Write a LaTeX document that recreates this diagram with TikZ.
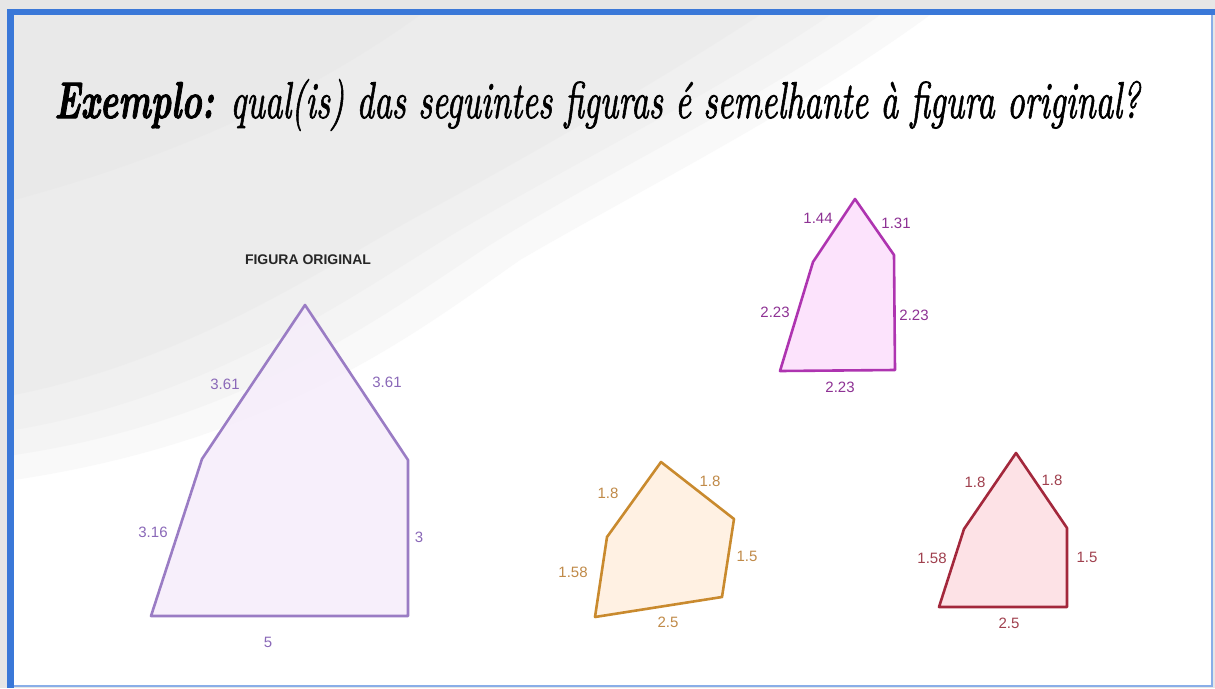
\documentclass[tikz,border=0pt]{standalone}
\usepackage{fontspec}
\newfontfamily\lab{Liberation Sans}
\newfontfamily\titlefont[Extension=.otf, FakeBold=1.6]{lmroman10-italic}
\newfontfamily\titlebold[Extension=.otf, FakeBold=2.2]{lmroman10-bolditalic}
\definecolor{frameblue}{HTML}{3A78D8}
\definecolor{outgray}{HTML}{E6E6E6}
\definecolor{blob}{HTML}{DCDCDC}
\definecolor{pStroke}{HTML}{9A7CC4}
\definecolor{pFill}{HTML}{F6EDFB}
\definecolor{pText}{HTML}{8A68B8}
\definecolor{mStroke}{HTML}{AE34B0}
\definecolor{mFill}{HTML}{FCE3FC}
\definecolor{mText}{HTML}{8E3294}
\definecolor{oStroke}{HTML}{C98A2E}
\definecolor{oFill}{HTML}{FFF1E3}
\definecolor{oText}{HTML}{C08A48}
\definecolor{rStroke}{HTML}{A3283C}
\definecolor{rFill}{HTML}{FDE2E6}
\definecolor{rText}{HTML}{A0404E}
\begin{document}
\begin{tikzpicture}[x=1pt,y=-1pt,
  lbl/.style={font=\lab\fontsize{15}{18}\selectfont, inner sep=0pt},
  poly/.style={line width=2.6pt, line join=round},
  wash/.style={fill=blob, fill opacity=0.16}]
\useasboundingbox (0,0) rectangle (1215,688);
% background
\fill[outgray] (0,0) rectangle (1215,688);
\fill[white] (10,12) rectangle (1212,686);
% soft watercolour wash
\fill[wash] (14,15) -- (930,15) .. controls (800,110) and (640,190) .. (520,260)
  .. controls (420,330) and (280,440) .. (14,480) -- cycle;
\fill[wash] (14,15) -- (880,15) .. controls (760,100) and (610,170) .. (490,245)
  .. controls (390,310) and (250,420) .. (14,455) -- cycle;
\fill[wash] (14,15) -- (830,15) .. controls (720,90) and (580,160) .. (460,230)
  .. controls (360,290) and (220,395) .. (14,430) -- cycle;
\fill[wash] (14,15) -- (760,15) .. controls (660,80) and (540,150) .. (420,215)
  .. controls (320,270) and (190,360) .. (14,395) -- cycle;
\fill[wash] (14,15) -- (420,15) .. controls (330,80) and (200,150) .. (14,200) -- cycle;
% frame
\fill[frameblue] (7,9) rectangle (1215,15);
\fill[frameblue] (7,9) rectangle (14,688);
\draw[frameblue!60, line width=1.5pt] (1212,15) -- (1212,686) -- (14,686);
% title
\node[anchor=base, inner sep=0pt] (title) at (597,118)
  {\scalebox{1}[1.5]{\resizebox{1085pt}{!}{\titlebold Exemplo:\titlefont{} qual(is) das seguintes figuras é semelhante à figura original?}}};
% original figure
\coordinate (A1) at (305,305);
\coordinate (A2) at (408,460);
\coordinate (A3) at (408,616);
\coordinate (A4) at (151,616);
\coordinate (A5) at (202,459);
\filldraw[poly, draw=pStroke, fill=pFill, fill opacity=0.85] (A1) -- (A2) -- (A3) -- (A4) -- (A5) -- cycle;
\node[font=\lab\bfseries\fontsize{14}{16}\selectfont, text=black!85, inner sep=0pt] (orig) at (308,260) {FIGURA ORIGINAL};
\node[lbl, text=pText] (a1) at (225,384) {3.61};
\node[lbl, text=pText] (a2) at (387,382) {3.61};
\node[lbl, text=pText] (a3) at (153,532) {3.16};
\node[lbl, text=pText] (a4) at (419,537) {3};
\node[lbl, text=pText] (a5) at (268,642) {5};
% magenta figure
\coordinate (M1) at (855,199);
\coordinate (M2) at (894,255);
\coordinate (M3) at (895,370);
\coordinate (M4) at (780,371);
\coordinate (M5) at (813,262);
\filldraw[poly, draw=mStroke, fill=mFill] (M1) -- (M2) -- (M3) -- (M4) -- (M5) -- cycle;
\node[lbl, text=mText] (m1) at (818,218) {1.44};
\node[lbl, text=mText] (m2) at (896,223) {1.31};
\node[lbl, text=mText] (m3) at (775,312) {2.23};
\node[lbl, text=mText] (m4) at (914,315) {2.23};
\node[lbl, text=mText] (m5) at (840,387) {2.23};
% orange figure
\coordinate (O1) at (661,462);
\coordinate (O2) at (734,519);
\coordinate (O3) at (722,597);
\coordinate (O4) at (595,617);
\coordinate (O5) at (607,537);
\filldraw[poly, draw=oStroke, fill=oFill] (O1) -- (O2) -- (O3) -- (O4) -- (O5) -- cycle;
\node[lbl, text=oText] (o1) at (608,493) {1.8};
\node[lbl, text=oText] (o2) at (710,481) {1.8};
\node[lbl, text=oText] (o3) at (747,556) {1.5};
\node[lbl, text=oText] (o4) at (573,572) {1.58};
\node[lbl, text=oText] (o5) at (668,622) {2.5};
% red figure
\coordinate (R1) at (1016,453);
\coordinate (R2) at (1067,528);
\coordinate (R3) at (1067,607);
\coordinate (R4) at (939,607);
\coordinate (R5) at (964,529);
\filldraw[poly, draw=rStroke, fill=rFill] (R1) -- (R2) -- (R3) -- (R4) -- (R5) -- cycle;
\node[lbl, text=rText] (r1) at (975,482) {1.8};
\node[lbl, text=rText] (r2) at (1052,480) {1.8};
\node[lbl, text=rText] (r3) at (932,558) {1.58};
\node[lbl, text=rText] (r4) at (1087,557) {1.5};
\node[lbl, text=rText] (r5) at (1009,623) {2.5};
\end{tikzpicture}
\end{document}
